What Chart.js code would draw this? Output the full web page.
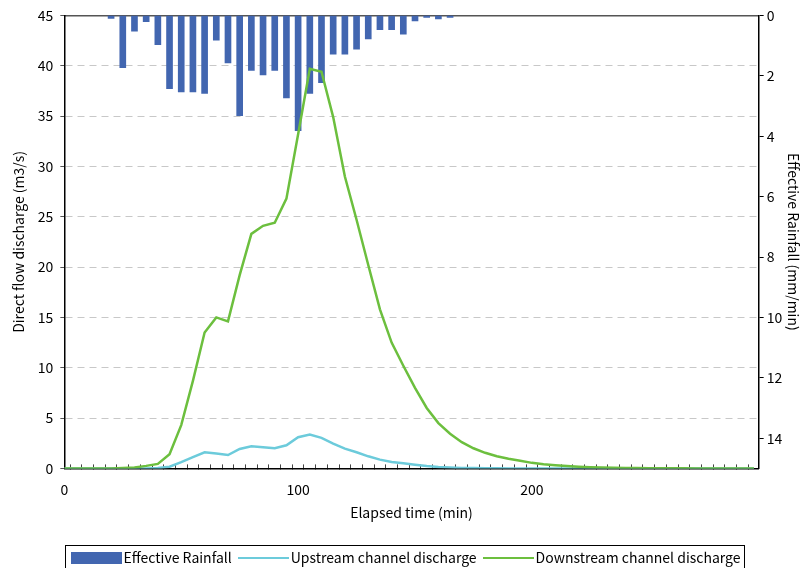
<!DOCTYPE html>
<html>
<head>
<meta charset="utf-8">
<script src="https://cdn.jsdelivr.net/npm/chart.js@4/dist/chart.umd.min.js"></script>
<style>
  html, body { margin: 0; padding: 0; background: #fff; }
  #wrap { width: 807px; height: 568px; }
</style>
</head>
<body>
<div id="wrap"><canvas id="chart"></canvas></div>
<script>
// elapsed time (min), 5-minute steps
const times = [0, 5, 10, 15, 20, 25, 30, 35, 40, 45, 50, 55, 60, 65, 70, 75, 80, 85, 90, 95,
  100, 105, 110, 115, 120, 125, 130, 135, 140, 145, 150, 155, 160, 165, 170, 175, 180, 185, 190, 195,
  200, 205, 210, 215, 220, 225, 230, 235, 240, 245, 250, 255, 260, 265, 270, 275, 280, 285, 290, 295];

// downstream channel discharge (m3/s)
const downstream = [0, 0, 0, 0, 0, 0.05, 0.1, 0.25, 0.45, 1.4, 4.3, 8.7, 13.5, 15.0, 14.6, 19.2, 23.3, 24.1, 24.4, 26.8,
  33.2, 39.7, 39.4, 34.9, 29.0, 24.7, 20.2, 15.8, 12.5, 10.2, 8.0, 6.0, 4.5, 3.45, 2.6, 2.0, 1.55, 1.2, 0.95, 0.75,
  0.55, 0.42, 0.32, 0.23, 0.16, 0.11, 0.08, 0.06, 0.04, 0.03, 0.02, 0.02, 0.01, 0.01, 0, 0, 0, 0, 0, 0];

// upstream channel discharge (m3/s)
const upstream = [0, 0, 0, 0, 0, 0, 0, 0, 0.03, 0.17, 0.63, 1.13, 1.6, 1.47, 1.33, 1.93, 2.2, 2.1, 2.0, 2.3,
  3.1, 3.37, 3.03, 2.47, 1.97, 1.6, 1.2, 0.87, 0.63, 0.5, 0.37, 0.23, 0.13, 0.08, 0.05, 0.03, 0.02, 0.01, 0, 0,
  0, 0, 0, 0, 0, 0, 0, 0, 0, 0, 0, 0, 0, 0, 0, 0, 0, 0, 0, 0];

// effective rainfall (mm/min)
const rainTimes = [20, 25, 30, 35, 40, 45, 50, 55, 60, 65, 70, 75, 80, 85, 90, 95,
  100, 105, 110, 115, 120, 125, 130, 135, 140, 145, 150, 155, 160, 165];
const rainfall = [0.1, 1.73, 0.52, 0.21, 0.97, 2.43, 2.53, 2.53, 2.58, 0.82, 1.57, 3.32, 1.82, 1.97, 1.82, 2.73,
  3.82, 2.58, 2.23, 1.28, 1.28, 1.12, 0.78, 0.47, 0.47, 0.62, 0.18, 0.07, 0.12, 0.07];

const xLabels = [0, 100, 200];

const BLUE = '#4266b0';
const CYAN = '#6ccbdb';
const GREEN = '#6cbf3e';

const font = { family: '"Noto Sans CJK JP", "Liberation Sans", sans-serif', size: 14 };

// legend symbols: 51px wide, a bit wider than the legend box so the text sits close
function legendSymbol(color, isLine) {
  const c = document.createElement('canvas');
  c.width = 51;
  c.height = 12;
  const g = c.getContext('2d');
  g.fillStyle = color;
  if (isLine) g.fillRect(0, 5, 51, 2);
  else g.fillRect(0, 0, 51, 12);
  return c;
}

// thin frame round the legend, like the original
const legendFrame = {
  id: 'legendFrame',
  afterDraw(chart) {
    const boxes = chart.legend && chart.legend.legendHitBoxes;
    if (!boxes || !boxes.length) return;
    const left = Math.min(...boxes.map(b => b.left)) - 11;
    const right = Math.max(...boxes.map(b => b.left + b.width)) + 4;
    const top = Math.min(...boxes.map(b => b.top)) - 6;
    const bottom = Math.max(...boxes.map(b => b.top + b.height)) + 6;
    const ctx = chart.ctx;
    ctx.save();
    ctx.strokeStyle = '#000';
    ctx.lineWidth = 1;
    ctx.strokeRect(Math.round(left) + 0.5, Math.round(top) + 0.5, Math.round(right - left), Math.round(bottom - top));
    ctx.restore();
  }
};

new Chart(document.getElementById('chart'), {
  type: 'bar',
  data: {
    datasets: [
      {
        type: 'bar',
        label: 'Effective Rainfall',
        data: rainTimes.map((t, i) => ({ x: t, y: rainfall[i] })),
        backgroundColor: BLUE,
        borderWidth: 0,
        barThickness: 6,
        yAxisID: 'y2',
        order: 3
      },
      {
        type: 'line',
        label: 'Upstream channel discharge',
        data: times.map((t, i) => ({ x: t, y: upstream[i] })),
        borderColor: CYAN,
        backgroundColor: CYAN,
        borderWidth: 2.5,
        pointRadius: 0,
        tension: 0,
        yAxisID: 'y',
        order: 2
      },
      {
        type: 'line',
        label: 'Downstream channel discharge',
        data: times.map((t, i) => ({ x: t, y: downstream[i] })),
        borderColor: GREEN,
        backgroundColor: GREEN,
        borderWidth: 2.5,
        pointRadius: 0,
        tension: 0,
        yAxisID: 'y',
        order: 1
      }
    ]
  },
  options: {
    responsive: true,
    maintainAspectRatio: false,
    animation: false,
    layout: { padding: { left: 10, right: 0, top: 12, bottom: -7 } },
    plugins: {
      tooltip: { enabled: false },
      legend: {
        position: 'bottom',
        labels: {
          font: font,
          color: '#000',
          usePointStyle: true,
          pointStyleWidth: 40,
          boxHeight: 12,
          padding: 12,
          generateLabels: chart => chart.data.datasets.map((ds, i) => ({
            text: ds.label,
            fillStyle: ds.backgroundColor,
            strokeStyle: ds.backgroundColor,
            lineWidth: 0,
            pointStyle: legendSymbol(ds.backgroundColor, ds.type === 'line'),
            hidden: false,
            datasetIndex: i
          }))
        }
      }
    },
    scales: {
      x: {
        type: 'linear',
        position: 'bottom',
        min: 0,
        max: 297,
        offset: false,
        ticks: {
          stepSize: 5,
          autoSkip: false,
          includeBounds: false,
          maxRotation: 0,
          padding: 17,
          color: '#000',
          font: font,
          callback: v => xLabels.includes(v) ? String(v) : ''
        },
        grid: { drawOnChartArea: false, drawTicks: true, tickLength: -4, tickColor: '#444', tickWidth: 1 },
        border: { color: '#000', width: 1.5 },
        title: { display: true, text: 'Elapsed time (min)', color: '#000', font: font, padding: { top: -11, bottom: 18 } }
      },
      xTop: {
        type: 'linear',
        position: 'top',
        min: 0,
        max: 297,
        ticks: { display: false },
        grid: { display: false, drawTicks: false },
        border: { color: '#555', width: 1.5 }
      },
      y: {
        position: 'left',
        min: 0,
        max: 45,
        ticks: { stepSize: 5, color: '#000', font: font, padding: 7 },
        grid: {
          color: ctx => ctx.tick && ctx.tick.value === 45 ? 'rgba(0,0,0,0)' : '#c8c8c8',
          lineWidth: 1,
          tickColor: '#555',
          tickLength: 4,
          tickBorderDash: []
        },
        border: { color: '#000', width: 1.5, dash: [7, 5] },
        title: { display: true, text: 'Direct flow discharge (m3/s)', color: '#000', font: font, padding: { top: 0, bottom: 4 } }
      },
      y2: {
        position: 'right',
        reverse: true,
        min: 0,
        max: 15,
        ticks: { stepSize: 2, includeBounds: false, color: '#000', font: font, padding: 3 },
        grid: { drawOnChartArea: false, tickColor: '#000', tickLength: 5 },
        border: { color: '#000', width: 1.5 },
        title: { display: true, text: 'Effective Rainfall (mm/min)', color: '#000', font: font, padding: { top: 5, bottom: 0 } }
      }
    }
  },
  plugins: [legendFrame]
});
</script>
</body>
</html>
